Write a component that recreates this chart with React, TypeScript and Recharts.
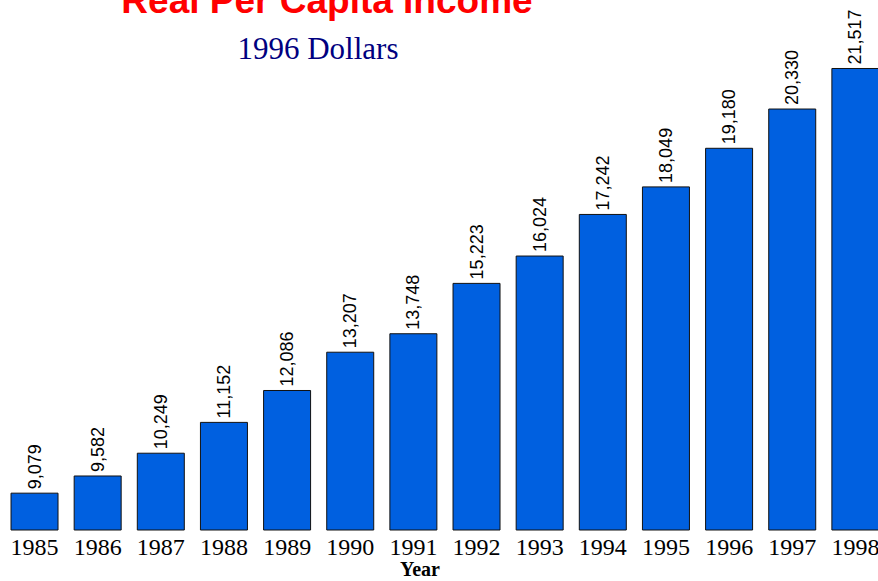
import React from 'react'
import { Bar, BarChart, LabelList, XAxis, YAxis } from 'recharts'

const years = ['1985', '1986', '1987', '1988', '1989', '1990', '1991', '1992', '1993', '1994', '1995', '1996', '1997', '1998']
const income = [9079, 9582, 10249, 11152, 12086, 13207, 13748, 15223, 16024, 17242, 18049, 19180, 20330, 21517]
const yDomain = [8000, 22000]

const data = years.map((year, i) => ({ year, income: income[i] }))

const BarValue = (props: any) => {
  const { x, y, width, value } = props
  const cx = x + width / 2
  const top = y - 4
  return (
    <text
      x={cx}
      y={top}
      transform={`rotate(-90 ${cx} ${top})`}
      textAnchor="start"
      dominantBaseline="central"
      fontFamily="'Liberation Sans', Arial, sans-serif"
      fontSize={18}
      fill="#000"
    >
      {Number(value).toLocaleString('en-US')}
    </text>
  )
}

const App = () => {
  return (
    <div
      style={{
        position: 'fixed',
        left: 0,
        top: 0,
        width: 878,
        height: 581,
        overflow: 'hidden',
        background: '#fff',
      }}
    >
      <BarChart
        width={890}
        height={581}
        data={data}
        margin={{ top: 52, right: 3, left: 3, bottom: 0 }}
        barCategoryGap="12.7%"
      >
        <XAxis
          dataKey="year"
          interval={0}
          axisLine={false}
          tickLine={false}
          height={51}
          tick={{ fontFamily: "'Liberation Serif', 'Times New Roman', serif", fontSize: 24, fill: '#000' }}
        />
        <YAxis hide domain={yDomain} />
        <Bar dataKey="income" fill="#0060e0" stroke="#111" strokeWidth={1} isAnimationActive={false}>
          <LabelList dataKey="income" content={BarValue} />
        </Bar>
      </BarChart>
      <svg width={878} height={581} style={{ position: 'absolute', left: 0, top: 0, pointerEvents: 'none' }}>
        <text
          x={327}
          y={13}
          textAnchor="middle"
          fontFamily="'Liberation Sans', Arial, sans-serif"
          fontWeight="bold"
          fontSize={37}
          fill="#ff0000"
        >
          Real Per Capita Income
        </text>
        <text
          x={318}
          y={59}
          textAnchor="middle"
          fontFamily="'Liberation Serif', 'Times New Roman', serif"
          fontSize={31}
          fill="#000080"
        >
          1996 Dollars
        </text>
        <text
          x={420}
          y={576}
          textAnchor="middle"
          fontFamily="'Liberation Serif', 'Times New Roman', serif"
          fontWeight="bold"
          fontSize={20}
          fill="#000"
        >
          Year
        </text>
      </svg>
    </div>
  )
}

export default App
